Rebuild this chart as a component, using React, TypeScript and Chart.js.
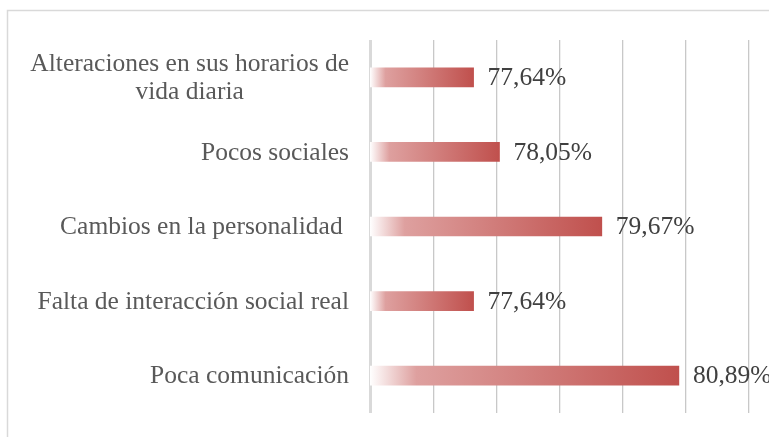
import React, { useEffect, useRef } from "react";
import { Chart, registerables } from "chart.js";

Chart.register(...registerables);

const categories: string[][] = [
  ["Alteraciones en sus horarios de", "vida diaria"],
  ["Pocos sociales"],
  ["Cambios en la personalidad "],
  ["Falta de interacción social real"],
  ["Poca comunicación"],
];
const values: number[] = [77.64, 78.05, 79.67, 77.64, 80.89];
const valueLabels: string[] = ["77,64%", "78,05%", "79,67%", "77,64%", "80,89%"];
const axisMin = 76;
const axisMax = 82;

const FONT = "'Liberation Serif', serif";

const framePlugin = {
  id: "frame",
  beforeDraw(chart: any) {
    const c = chart.ctx;
    c.save();
    c.strokeStyle = "#d9d9d9";
    c.lineWidth = 1.5;
    c.strokeRect(7.5, 10.5, chart.width + 20, chart.height + 20);
    c.restore();
  },
};

const labelsPlugin = {
  id: "customLabels",
  afterDatasetsDraw(chart: any) {
    const c = chart.ctx;
    const xs = chart.scales.x;
    const ys = chart.scales.y;
    c.save();
    c.font = `25.5px ${FONT}`;
    c.textBaseline = "middle";
    c.fillStyle = "#595959";
    const right = chart.chartArea.left - 21;
    categories.forEach((lines, i) => {
      const yc = ys.getPixelForValue(i);
      const lh = 28;
      const widths = lines.map((l) => c.measureText(l).width);
      const maxW = Math.max(...widths);
      lines.forEach((l, j) => {
        const y = yc + (j - (lines.length - 1) / 2) * lh;
        c.textAlign = "center";
        c.fillText(l, right - maxW / 2, y + 1);
      });
    });
    c.fillStyle = "#404040";
    c.textAlign = "left";
    values.forEach((v, i) => {
      const x = xs.getPixelForValue(v) + 14;
      const y = ys.getPixelForValue(i);
      c.fillText(valueLabels[i], x, y + 1);
    });
    c.restore();
  },
};

export default function App() {
  const ref = useRef<HTMLCanvasElement>(null);
  useEffect(() => {
    if (!ref.current) return;
    const chart = new Chart(ref.current, {
      type: "bar",
      data: {
        labels: categories,
        datasets: [
          {
            data: values,
            barThickness: 19,
            borderWidth: 0,
            backgroundColor: (ctx: any) => {
              const ch = ctx.chart;
              const xs = ch.scales?.x;
              if (!xs || !ch.chartArea) return "#c0504d";
              const v = values[ctx.dataIndex] ?? axisMax;
              const x0 = xs.getPixelForValue(axisMin);
              const x1 = xs.getPixelForValue(v);
              const g = ch.ctx.createLinearGradient(x0, 0, x1, 0);
              g.addColorStop(0, "rgba(255,255,255,1)");
              g.addColorStop(0.15, "rgba(222,160,159,1)");
              g.addColorStop(0.5, "rgba(210,128,126,1)");
              g.addColorStop(1, "rgba(192,80,77,1)");
              return g;
            },
          },
        ],
      },
      options: {
        indexAxis: "y",
        animation: false,
        responsive: false,
        maintainAspectRatio: false,
        layout: { padding: { left: 370, right: 20, top: 40, bottom: 24 } },
        plugins: { legend: { display: false }, tooltip: { enabled: false } },
        scales: {
          x: {
            min: axisMin,
            max: axisMax,
            ticks: { display: false, stepSize: 1 },
            grid: {
              drawTicks: false,
              color: (c: any) => (c.index === 0 ? "#d9d9d9" : "#c8c8c8"),
              lineWidth: (c: any) => (c.index === 0 ? 3 : 1.3),
            },
            border: { display: false },
          },
          y: {
            ticks: { display: false },
            grid: { display: false, drawTicks: false },
            border: { display: false },
          },
        },
      },
      plugins: [framePlugin, labelsPlugin],
    });
    return () => chart.destroy();
  }, []);
  return (
    <div style={{ position: "absolute", left: 0, top: 0, width: 769, height: 437, background: "#fff" }}>
      <canvas ref={ref} width={769} height={437} style={{ display: "block" }} />
    </div>
  );
}
